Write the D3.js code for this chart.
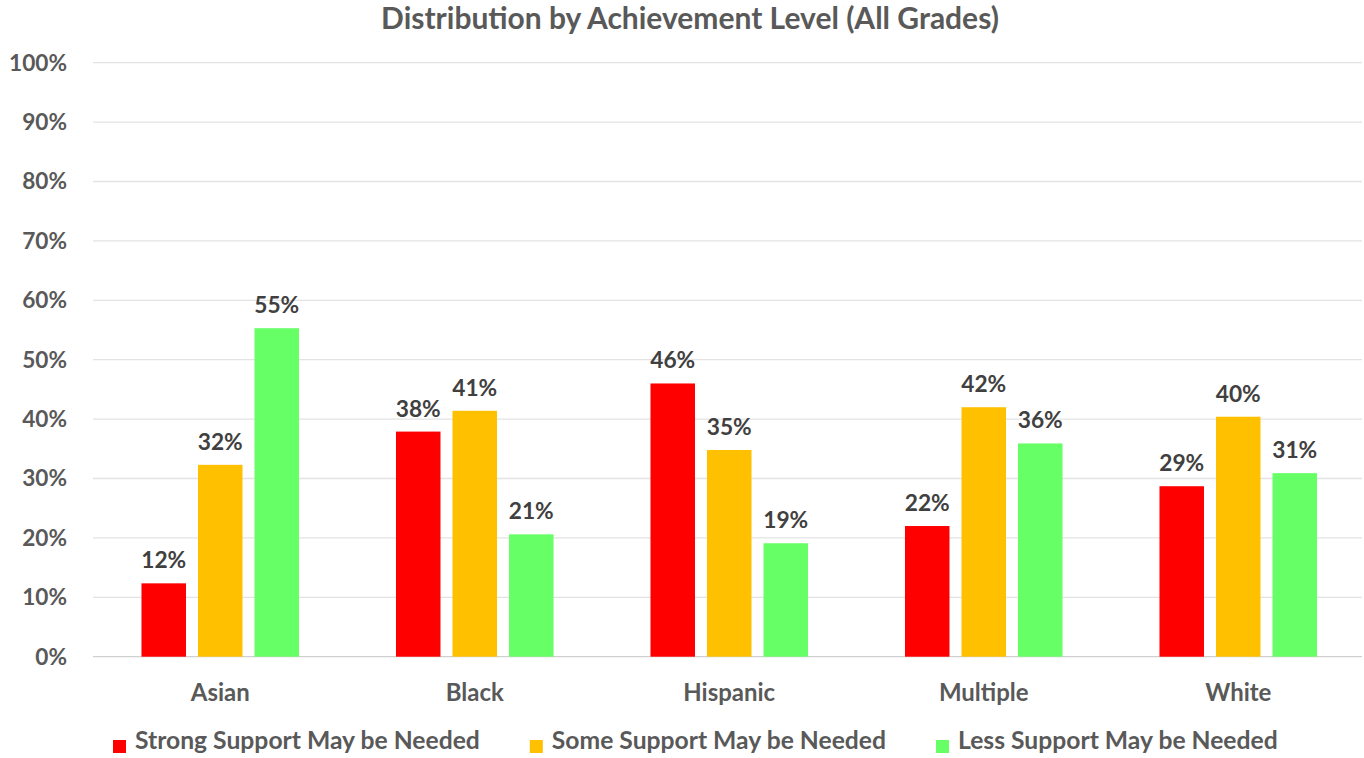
<!DOCTYPE html>
<html>
<head>
<meta charset="utf-8">
<script src="https://cdn.jsdelivr.net/npm/d3@7"></script>
<style>
  html, body { margin: 0; padding: 0; background: #ffffff; }
  svg { display: block; }
  text { font-family: Lato, "Open Sans", "DejaVu Sans", sans-serif; font-weight: 700; }
</style>
</head>
<body>
<svg id="chart" width="1364" height="758"></svg>
<script>
// ---- Data ----
const categories = ["Asian", "Black", "Hispanic", "Multiple", "White"];
const seriesNames = ["Strong Support May be Needed", "Some Support May be Needed", "Less Support May be Needed"];
const strongSupport = [12.35, 37.9, 46.0, 22.0, 28.7];
const someSupport   = [32.3, 41.4, 34.8, 42.0, 40.4];
const lessSupport   = [55.3, 20.6, 19.1, 35.9, 30.9];
const barLabels = [
  ["12%", "38%", "46%", "22%", "29%"],
  ["32%", "41%", "35%", "42%", "40%"],
  ["55%", "21%", "19%", "36%", "31%"]
];
const yTicks = [0, 10, 20, 30, 40, 50, 60, 70, 80, 90, 100];
const yTickLabels = ["0%", "10%", "20%", "30%", "40%", "50%", "60%", "70%", "80%", "90%", "100%"];
const seriesColors = ["#FF0000", "#FFC000", "#66FF66"];
const title = "Distribution by Achievement Level (All Grades)";

const seriesValues = [strongSupport, someSupport, lessSupport];

// ---- Layout ----
const plot = { left: 93, right: 1365.5, top: 62.7, bottom: 656.7 };
const svg = d3.select("#chart");
const textGray = "#595959";
const labelGray = "#404040";

const y = d3.scaleLinear().domain([0, 100]).range([plot.bottom, plot.top]);
const x0 = d3.scaleBand().domain(categories).range([plot.left, plot.right])
  .paddingInner(0.381).paddingOuter(0.1905);
const x1 = d3.scaleBand().domain(seriesNames).range([0, x0.bandwidth()])
  .paddingInner(0.2124).paddingOuter(0);

// helper: fit a font size so that a sample string has target width
function fitSize(sample, target, base) {
  const t = svg.append("text").attr("font-size", base).text(sample);
  const w = t.node().getComputedTextLength();
  t.remove();
  return base * target / w;
}

const axisSize = fitSize("100%", 58, 20);
const catSize = fitSize("Asian", 59, 20);
const labelSize = fitSize("12%", 45, 20);
const legendSize = fitSize("Strong Support May be Needed", 345, 20);
const titleSize = fitSize(title, 618, 20);

// ---- Title ----
svg.append("text")
  .attr("x", 690).attr("y", 29)
  .attr("text-anchor", "middle")
  .attr("font-size", titleSize)
  .attr("fill", textGray)
  .text(title);

// ---- Gridlines ----
svg.append("g").selectAll("line").data(yTicks).join("line")
  .attr("x1", plot.left).attr("x2", 1362)
  .attr("y1", d => y(d)).attr("y2", d => y(d))
  .attr("stroke", d => d === 0 ? "#d0d0d0" : "#e3e3e3")
  .attr("stroke-width", 1.3);

// ---- Y axis labels ----
svg.append("g").selectAll("text").data(yTicks).join("text")
  .attr("x", 67).attr("y", d => y(d))
  .attr("dy", "0.35em")
  .attr("text-anchor", "end")
  .attr("font-size", axisSize)
  .attr("fill", textGray)
  .text((d, i) => yTickLabels[i]);

// ---- Bars ----
const groups = svg.append("g").selectAll("g").data(categories).join("g")
  .attr("transform", d => `translate(${x0(d)},0)`);

const cellData = (c, ci) => seriesNames.map((s, si) => ({ s, si, v: seriesValues[si][ci], lab: barLabels[si][ci] }));

groups.selectAll("rect")
  .data(cellData)
  .join("rect")
  .attr("x", d => x1(d.s))
  .attr("width", x1.bandwidth())
  .attr("y", d => y(d.v))
  .attr("height", d => y(0) - y(d.v))
  .attr("fill", d => seriesColors[d.si]);

groups.selectAll("text")
  .data(cellData)
  .join("text")
  .attr("x", d => x1(d.s) + x1.bandwidth() / 2)
  .attr("y", d => y(d.v) - 15)
  .attr("text-anchor", "middle")
  .attr("font-size", labelSize)
  .attr("fill", labelGray)
  .text(d => d.lab);

// ---- Category labels ----
svg.append("g").selectAll("text").data(categories).join("text")
  .attr("x", d => x0(d) + x0.bandwidth() / 2)
  .attr("y", 701)
  .attr("text-anchor", "middle")
  .attr("font-size", catSize)
  .attr("fill", textGray)
  .text(d => d);

// ---- Legend ----
const legend = svg.append("g");
let lx = 113;
seriesNames.forEach((name, i) => {
  legend.append("rect")
    .attr("x", lx).attr("y", 740)
    .attr("width", 13).attr("height", 13)
    .attr("fill", seriesColors[i]);
  const t = legend.append("text")
    .attr("x", lx + 22).attr("y", 749)
    .attr("font-size", legendSize)
    .attr("fill", textGray)
    .text(name);
  lx += 22 + t.node().getComputedTextLength() + 50;
});
</script>
</body>
</html>
